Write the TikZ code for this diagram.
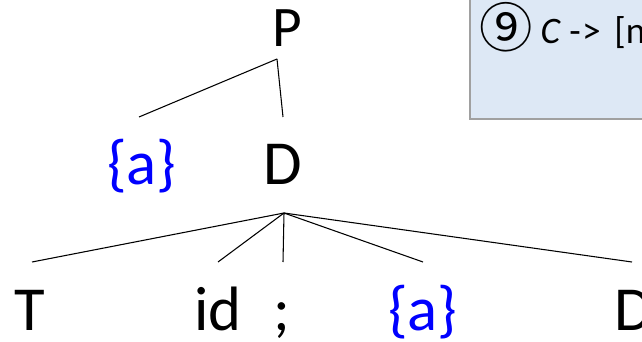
\documentclass[tikz,border=0pt]{standalone}
\usepackage{fontspec}
\setmainfont{Carlito}
\newfontfamily\symfont{Noto Sans CJK SC}
\definecolor{boxblue}{RGB}{221,232,245}
\definecolor{boxline}{RGB}{160,160,160}
\definecolor{actblue}{RGB}{0,0,255}
\tikzset{
  sym/.style={anchor=base, inner sep=0pt, font=\fontsize{47}{56}\selectfont},
  act/.style={sym, text=actblue},
  edge/.style={black, line width=0.8pt}
}
\begin{document}
\begin{tikzpicture}[x=0.75pt, y=-0.75pt]
    \useasboundingbox (0,0) rectangle (642,342);
    \clip (0,0) rectangle (642,342);
    \filldraw[fill=boxblue, draw=boxline, line width=0.8pt] (470,-5) rectangle (660,119);
    \node (rule) [anchor=base west, inner sep=0pt, font=\fontsize{28}{32}\selectfont] at (479,44) {\raisebox{-3pt}{\symfont\fontsize{40}{44}\selectfont ⑨}\hspace{6pt}\textit{C} -\kern1pt>\hspace{4pt} [n};
    \node (P) [sym, font=\fontsize{43}{52}\selectfont] at (287,47) {P};
    \node (a1) [act] at (142,185) {\{a\}};
    \node (D1) [sym] at (283,185) {D};
    \node (T) [sym] at (30,330) {T};
    \node (id) [sym] at (218,330) {id};
    \node (semi) [sym] at (282,330) {;};
    \node (a2) [act] at (423,330) {\{a\}};
    \node (D2) [sym] at (634,330) {D};
    \coordinate (P-foot) at ([shift={(-10,12)}]P.base);
    \coordinate (a1-top) at ([shift={(-3,-68)}]a1.base);
    \coordinate (D1-top) at ([shift={(0,-68)}]D1.base);
    \coordinate (D1-foot) at ([shift={(1,28)}]D1.base);
    \coordinate (T-top) at ([shift={(2,-68)}]T.base);
    \coordinate (id-top) at ([shift={(0,-68)}]id.base);
    \coordinate (semi-top) at ([shift={(1,-68)}]semi.base);
    \coordinate (a2-top) at ([shift={(0,-68)}]a2.base);
    \coordinate (D2-top) at ([shift={(-2,-68)}]D2.base);
    \draw[edge] (P-foot) -- (a1-top);
    \draw[edge] (P-foot) -- (D1-top);
    \draw[edge] (D1-foot) -- (T-top);
    \draw[edge] (D1-foot) -- (id-top);
    \draw[edge] (D1-foot) -- (semi-top);
    \draw[edge] (D1-foot) -- (a2-top);
    \draw[edge] (D1-foot) -- (D2-top);
\end{tikzpicture}
\end{document}
